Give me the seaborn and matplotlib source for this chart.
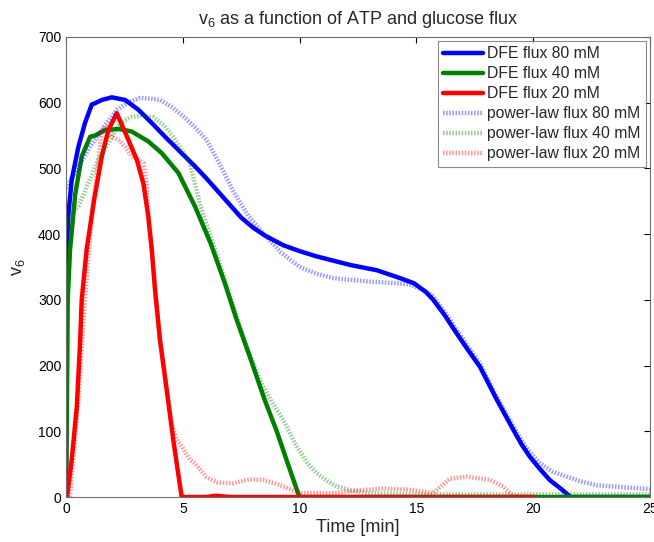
import matplotlib
matplotlib.use('Agg')
import matplotlib.pyplot as plt
import seaborn as sns
import numpy as np

sns.set_style('white')
plt.rcParams['font.family'] = ['Liberation Sans', 'DejaVu Sans']

# DFE flux curves (time in min, v6)
t_dfe80 = [0, 0.03, 0.1, 0.24, 0.53, 0.81, 1.1, 1.24, 1.53, 1.96, 2.53, 3.1, 3.67, 4.24,
           4.95, 5.52, 6.0, 6.5, 7.0, 7.5, 8.0, 8.5, 9.3, 10.0, 10.73, 11.5, 12.16, 13.3,
           14.3, 14.9, 15.4, 15.72, 16.2, 16.72, 17.2, 17.72, 18.44, 19.15, 19.5, 19.86,
           20.3, 20.7, 21.2, 21.6, 25]
v_dfe80 = [0, 380, 430, 482, 533, 569, 597, 599, 604, 608, 604, 589, 569, 548,
           523, 503, 485, 465, 445, 425, 410, 398, 383, 374, 366, 359, 353, 345,
           333, 325, 312, 300, 277, 249, 224, 198, 148, 102, 80, 61,
           42, 26, 12, 0, 0]

t_dfe40 = [0, 0.04, 0.07, 0.17, 0.39, 0.67, 1.03, 1.24, 1.67, 2.24, 2.81, 3.52, 4.1, 4.81,
           5.52, 6.2, 6.8, 7.3, 7.88, 8.5, 9.02, 9.5, 9.93, 10.0, 25]
v_dfe40 = [0, 150, 300, 376, 460, 518, 548, 550, 558, 560, 556, 541, 523, 493,
           442, 385, 325, 270, 212, 148, 100, 50, 6, 0, 0]

t_dfe20 = [0, 0.04, 0.24, 0.46, 0.6, 0.67, 0.88, 1.2, 1.53, 1.81, 2.17, 2.67, 3.03, 3.31,
           3.52, 3.67, 3.81, 4.02, 4.31, 4.59, 4.8, 4.95, 6.0, 6.4, 7.0, 20]
v_dfe20 = [0, 0, 56, 137, 234, 300, 376, 452, 518, 558, 584, 543, 513, 477,
           427, 376, 315, 239, 163, 87, 36, 0, 0, 2, 0, 0]

# power-law flux curves
t_pl80 = [0, 0.5, 1.03, 1.6, 2.17, 2.7, 3.17, 3.6, 4.02, 4.5, 5.02, 5.5, 6.02, 6.6, 7.16,
          7.8, 8.45, 9.2, 10.0, 10.7, 11.44, 12.87, 14.3, 14.73, 15.3, 15.72, 16.2, 16.72,
          17.2, 17.72, 18.4, 19.15, 19.7, 20.3, 20.8, 21.43, 22.0, 22.7, 23.8, 25]
v_pl80 = [470, 500, 533, 562, 589, 601, 607, 606, 604, 594, 579, 563, 543, 505, 465,
          428, 401, 372, 350, 340, 333, 328, 325, 323, 315, 305, 282, 254,
          230, 203, 155, 107, 75, 51, 39, 31, 24, 18, 15, 12]

t_pl40 = [0, 0.24, 0.53, 0.95, 1.38, 1.96, 2.31, 2.8, 3.17, 3.74, 4.2, 4.59, 5.0, 5.3,
          5.74, 6.02, 6.4, 6.8, 7.3, 7.73, 8.3, 8.8, 9.3, 9.87, 10.3, 10.73, 11.2, 11.6,
          12.2, 12.87, 15, 25]
v_pl40 = [410, 432, 442, 477, 513, 548, 569, 578, 580, 578, 565, 548, 525, 508,
          445, 415, 375, 330, 275, 230, 178, 145, 117, 77, 53, 36, 24, 16,
          10, 6, 4, 4]

t_pl20 = [0.17, 0.53, 0.81, 1.1, 1.38, 1.53, 1.7, 1.96, 2.24, 2.53, 2.81, 3.1, 3.31, 3.45,
          3.52, 3.67, 3.81, 4.02, 4.31, 4.52, 4.74, 4.95, 5.3, 5.52, 6.02, 6.5, 7.16, 7.6,
          7.88, 8.45, 9.0, 9.3, 10.0, 11.44, 12.5, 13.58, 14.73, 15.72, 16.1, 16.44, 17.15,
          18.15, 18.72, 19.15, 20]
v_pl20 = [0, 148, 300, 427, 508, 560, 562, 548, 543, 533, 518, 513, 508, 480,
          427, 376, 315, 239, 163, 112, 87, 77, 57, 51, 30, 22, 21, 25,
          27, 26, 20, 16, 6, 6, 10, 13, 11, 6, 18, 28, 31,
          26, 16, 1, 0]

series = [
    (t_dfe80, v_dfe80, 'DFE flux 80 mM', '#0000ff', '-', 3.2, 1.0),
    (t_dfe40, v_dfe40, 'DFE flux 40 mM', '#007f00', '-', 3.2, 1.0),
    (t_dfe20, v_dfe20, 'DFE flux 20 mM', '#ff0000', '-', 3.2, 1.0),
    (t_pl80, v_pl80, 'power-law flux 80 mM', '#0000ff', (0, (0.35, 0.35)), 3.2, 0.4),
    (t_pl40, v_pl40, 'power-law flux 40 mM', '#007f00', (0, (0.35, 0.35)), 3.2, 0.4),
    (t_pl20, v_pl20, 'power-law flux 20 mM', '#ff0000', (0, (0.35, 0.35)), 3.2, 0.4),
]

fig = plt.figure(figsize=(6.54, 5.42), dpi=100)
ax = fig.add_axes([0.101, 0.083, 0.893, 0.849])

for t, v, lab, col, ls, lw, a in series:
    sns.lineplot(x=t, y=v, ax=ax, color=col, linestyle=ls, linewidth=lw, alpha=a,
                 label=lab, estimator=None, sort=False)

ax.set_xlim(0, 25)
ax.set_ylim(0, 700)
ax.set_xticks(np.arange(0, 26, 5))
ax.set_yticks(np.arange(0, 701, 100))
ax.tick_params(direction='in', top=True, right=True, length=4, width=0.8,
               labelsize=10, colors='#000000')
for s in ax.spines.values():
    s.set_color('#6e6e6e')
    s.set_linewidth(0.8)

ax.set_xlabel('Time [min]', fontsize=13, labelpad=2)
ax.set_ylabel('$\\mathregular{v_6}$', fontsize=13, labelpad=8)
ax.set_title('$\\mathregular{v_6}$ as a function of ATP and glucose flux', fontsize=13, pad=9)

leg = ax.legend(loc='upper right', fontsize=11.3, frameon=True, fancybox=False,
                handlelength=2.5, handletextpad=0.3, labelspacing=0.32,
                borderpad=0.35, borderaxespad=0.25)
leg.get_frame().set_edgecolor('#6e6e6e')
leg.get_frame().set_linewidth(0.8)
for h in leg.get_lines():
    h.set_linewidth(3.2)

plt.savefig('out.png', dpi=100)
